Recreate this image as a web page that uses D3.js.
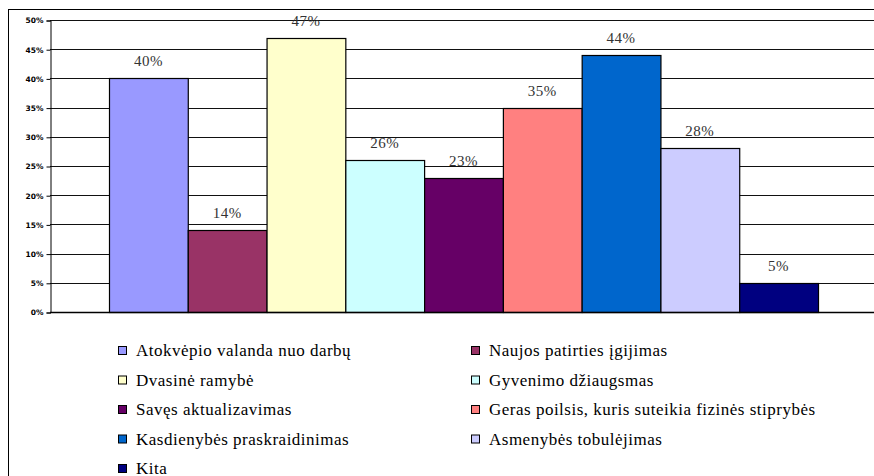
<!DOCTYPE html>
<html>
<head>
<meta charset="utf-8">
<script src="https://cdn.jsdelivr.net/npm/d3@7"></script>
<style>
  body { margin: 0; background: #fff; }
  .serif { font-family: 'Liberation Serif', 'DejaVu Serif', serif; }
</style>
</head>
<body>
<div id="chart"></div>
<script>
// chart data
var categories = [
  'Atokvėpio valanda nuo darbų',
  'Naujos patirties įgijimas',
  'Dvasinė ramybė',
  'Gyvenimo džiaugsmas',
  'Savęs aktualizavimas',
  'Geras poilsis, kuris suteikia fizinės stiprybės',
  'Kasdienybės praskraidinimas',
  'Asmenybės tobulėjimas',
  'Kita'
];
var values = [40, 14, 47, 26, 23, 35, 44, 28, 5];
var colors = ['#9999FF', '#993366', '#FFFFCC', '#CCFFFF', '#660066', '#FF8080', '#0066CC', '#CCCCFF', '#000080'];
var yTicks = [0, 5, 10, 15, 20, 25, 30, 35, 40, 45, 50];

var width = 874, height = 476;
var svg = d3.select('#chart').append('svg')
  .attr('width', width)
  .attr('height', height);

// outer frame (runs past the right and bottom edges)
svg.append('rect')
  .attr('x', 8.5).attr('y', 9.5)
  .attr('width', 900).attr('height', 500)
  .style('fill', 'none')
  .style('stroke', '#000')
  .style('stroke-width', 1);

// plot area (note: "top" is taken by window.top)
var plotLeft = 50, plotRight = 877, plotTop = 20, plotBottom = 312;

var y = d3.scaleLinear().domain([0, 50]).range([plotBottom, plotTop]);
var x = d3.scaleBand().domain(categories).range([plotLeft + 59, plotRight - 59]).padding(0);

// gridlines
svg.append('g')
  .selectAll('line')
  .data(yTicks)
  .join('line')
  .attr('x1', plotLeft).attr('x2', width)
  .attr('y1', d => Math.round(y(d)) + 0.5)
  .attr('y2', d => Math.round(y(d)) + 0.5)
  .style('stroke', '#111')
  .style('stroke-width', 1.2);

// y axis
var yAxis = d3.axisLeft(y)
  .tickValues(yTicks)
  .tickFormat(d => d + '%')
  .tickSize(4)
  .tickPadding(3);
var gy = svg.append('g')
  .attr('transform', 'translate(' + (plotLeft + 0.5) + ',0.5)')
  .call(yAxis);
gy.select('.domain').style('stroke', '#000');
gy.selectAll('.tick line').style('stroke', '#000');
gy.selectAll('.tick text')
  .attr('font-family', 'DejaVu Sans, Verdana, sans-serif')
  .attr('font-size', 7.5)
  .attr('font-weight', 'bold')
  .attr('fill', '#000');

// bars
svg.append('g')
  .selectAll('rect')
  .data(values)
  .join('rect')
  .attr('x', (d, i) => x(categories[i]) + 0.5)
  .attr('y', d => Math.round(y(d)) + 0.5)
  .attr('width', x.bandwidth())
  .attr('height', d => plotBottom - Math.round(y(d)))
  .style('fill', (d, i) => colors[i])
  .style('stroke', '#000')
  .style('stroke-width', 1.2);

// bottom axis line
svg.append('line')
  .attr('x1', plotLeft).attr('x2', width)
  .attr('y1', plotBottom + 0.5).attr('y2', plotBottom + 0.5)
  .style('stroke', '#000')
  .style('stroke-width', 1.5);

// data labels
svg.append('g')
  .selectAll('text')
  .data(values)
  .join('text')
  .attr('class', 'serif')
  .attr('x', (d, i) => x(categories[i]) + x.bandwidth() / 2)
  .attr('y', d => y(d) - 12)
  .attr('text-anchor', 'middle')
  .attr('font-size', 15)
  .attr('letter-spacing', 0.5)
  .attr('fill', '#333')
  .text(d => d + '%');

// legend, two columns
var legend = svg.append('g')
  .selectAll('g')
  .data(categories)
  .join('g')
  .attr('transform', (d, i) => 'translate(' + (i % 2 === 0 ? 118 : 471) + ',' + (350 + Math.floor(i / 2) * 29.5) + ')');

legend.append('rect')
  .attr('x', 0.5).attr('y', -3.5)
  .attr('width', 8).attr('height', 8)
  .style('fill', (d, i) => colors[i])
  .style('stroke', '#000')
  .style('stroke-width', 1);

legend.append('text')
  .attr('class', 'serif')
  .attr('x', 18)
  .attr('y', 6)
  .attr('font-size', 17)
  .attr('letter-spacing', 0.5)
  .attr('fill', '#000')
  .text(d => d);
</script>
</body>
</html>
